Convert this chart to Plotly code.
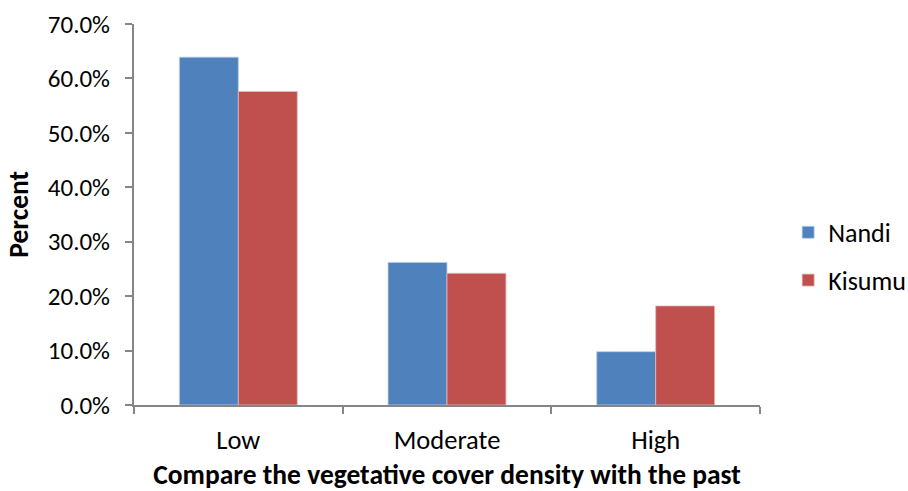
import plotly.graph_objects as go

categories = ["Low", "Moderate", "High"]
nandi = [0.639, 0.262, 0.098]
kisumu = [0.576, 0.242, 0.182]
y_ticks = [0, 0.1, 0.2, 0.3, 0.4, 0.5, 0.6, 0.7]

FONT = "Carlito, Calibri, Lato, sans-serif"
AXIS_COLOR = "#868686"

fig = go.Figure()
fig.add_trace(go.Bar(x=categories, y=nandi, name="Nandi", legendgroup="a",
                     marker=dict(color="#4F81BD", line=dict(color="#B9CDE5", width=0.8))))
fig.add_trace(go.Bar(x=categories, y=kisumu, name="Kisumu", legendgroup="b",
                     marker=dict(color="#C0504D", line=dict(color="#E6B9B8", width=0.8))))

fig.update_layout(
    width=908, height=491,
    margin=dict(l=134, r=148, t=24, b=86, autoexpand=False),
    paper_bgcolor="white", plot_bgcolor="white",
    font=dict(family=FONT, size=25, color="black"),
    barmode="group", bargap=0.435, bargroupgap=0,
    showlegend=True,
    legend=dict(x=1.045, y=0.39, xanchor="left", yanchor="middle",
                font=dict(size=26), tracegroupgap=11, itemwidth=30),
    xaxis=dict(
        title=dict(text="<b>Compare the vegetative cover density with the past</b>",
                   font=dict(size=27.5), standoff=17),
        showline=True, linecolor=AXIS_COLOR, linewidth=2,
        ticks="outside", tickson="boundaries", ticklen=7, tickcolor=AXIS_COLOR, tickwidth=2,
        showgrid=False, tickfont=dict(size=26.5), ticklabelstandoff=10,
    ),
    yaxis=dict(
        range=[0, 0.7], tickvals=y_ticks, tickformat=".1%",
        showline=True, linecolor=AXIS_COLOR, linewidth=2,
        ticks="outside", ticklen=7, tickcolor=AXIS_COLOR, tickwidth=2,
        showgrid=False, zeroline=False, tickfont=dict(size=25), ticklabelstandoff=10,
    ),
    annotations=[dict(text="<b>Percent</b>", xref="paper", yref="paper",
                      x=-0.185, y=0.5, xanchor="center", yanchor="middle",
                      textangle=-90, showarrow=False, font=dict(size=27.5))],
)

fig.write_html("out.html")
